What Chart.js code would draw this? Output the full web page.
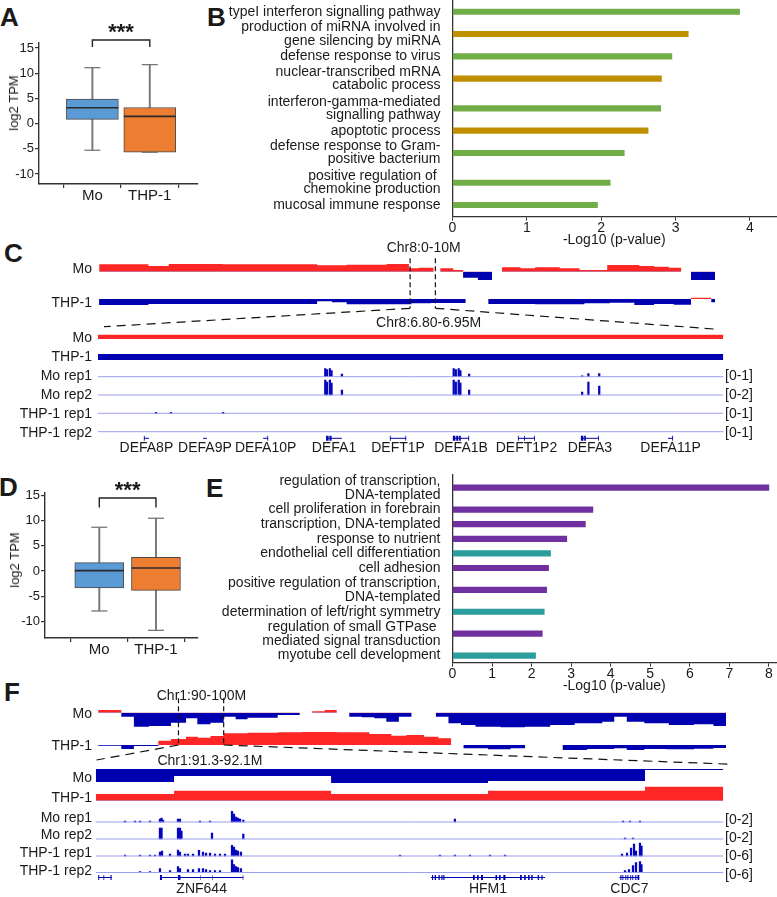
<!DOCTYPE html>
<html><head><meta charset="utf-8"><title>Figure</title>
<script src="https://cdn.jsdelivr.net/npm/chart.js@4.4.1/dist/chart.umd.min.js"></script>
<style>
html,body{margin:0;padding:0;background:#fff}
body{width:777px;height:897px;position:relative;overflow:hidden;font-family:"Liberation Sans",Arial,Helvetica,sans-serif;color:#1a1a1a}
canvas{position:absolute}
.t{position:absolute;white-space:pre;font-size:14px;line-height:16px}
.L{position:absolute;font-weight:bold;font-size:26px;line-height:26px}
</style></head><body>
<script>
// ================= DATA =================
// Panels A / D : box statistics [min, q1, median, q3, max] (log2 TPM)
const boxGroups = ["Mo", "THP-1"];
const boxTicks = [15, 10, 5, 0, -5, -10];
const boxA_Mo   = [-5.3, 0.83, 3.13, 4.85, 11.1];
const boxA_THP1 = [-5.7, -5.7, 1.42, 3.2, 11.7];
const boxD_Mo   = [-7.95, -3.38, 0.08, 1.67, 8.69];
const boxD_THP1 = [-11.8, -3.84, 0.6, 2.72, 10.48];

// Panel B : GO terms
const termsB = [
  "typeI interferon signalling pathway",
  "production of miRNA involved in\ngene silencing by miRNA",
  "defense response to virus",
  "nuclear-transcribed mRNA\ncatabolic process",
  "interferon-gamma-mediated\nsignalling pathway",
  "apoptotic process",
  "defense response to Gram-\npositive bacterium",
  "positive regulation of \nchemokine production",
  "mucosal immune response"];
const valuesB = [3.86, 3.17, 2.95, 2.81, 2.80, 2.63, 2.31, 2.12, 1.95];
const groupB  = [0, 1, 0, 1, 0, 1, 0, 0, 0];
const ticksB  = [0, 1, 2, 3, 4];

// Panel E : GO terms
const termsE = [
  "regulation of transcription,\nDNA-templated",
  "cell proliferation in forebrain",
  "transcription, DNA-templated",
  "response to nutrient",
  "endothelial cell differentiation",
  "cell adhesion",
  "positive regulation of transcription,\nDNA-templated",
  "determination of left/right symmetry",
  "regulation of small GTPase \nmediated signal transduction",
  "myotube cell development"];
const valuesE = [8.0, 3.55, 3.36, 2.89, 2.48, 2.43, 2.38, 2.32, 2.27, 2.10];
const groupE  = [0, 0, 0, 0, 1, 0, 0, 1, 0, 1];
const ticksE  = [0, 1, 2, 3, 4, 5, 6, 7, 8];

// Panel C : Chr8 overview (Mb, bin starts + end) and compartment values
const c8MoPos = [0,0.80,1.13,2.01,3.54,4.02,4.67,5.03,5.19,5.43,5.54,5.75,5.91,6.15,6.38,6.54,6.84,7.08,7.48,7.80,8.25,8.77,9.01,9.25,9.45,9.61,10];
const c8MoVal = [2.2,1.7,2.3,2.2,1.9,2.1,2.3,1.0,1.2,0,1.0,0.5,-1.8,-2.5,0,1.3,1.0,1.3,1.0,0.5,2.0,1.7,1.5,1.2,0,-2.5];
const c8ThpPos = [0,0.80,3.54,3.78,4.02,5.07,5.39,5.95,6.32,7.08,7.88,8.29,8.69,9.01,9.33,9.61,9.94,10];
const c8ThpVal = [-1.8,-1.5,-0.7,-1.0,-1.6,-1.3,-1.2,0,-1.5,-1.6,-1.3,-1.1,-1.8,-1.5,-1.7,0.4,-1.0];
const c8ZoomMarks = [5.05, 5.46];
// Panel C : Chr8:6.80-6.95M zoom (kb)
const c8zPos = [6800, 6950];
const c8zMoVal = [1.3];
const c8zThpVal = [-1.8];
const c8MoRep1Pos = [6854.5,6854.9,6855.6,6856.0,6858.5,6885.3,6885.8,6886.5,6886.9,6889.0,6916.1,6917.6,6920.2];
const c8MoRep1Val = [0.50,0.44,0.50,0.38,0.16,0.50,0.44,0.50,0.38,0.16,0.06,0.19,0.19];
const c8MoRep2Pos = [6854.5,6854.9,6855.6,6856.0,6858.5,6885.3,6885.8,6886.5,6886.9,6889.0,6916.1,6917.6,6920.2];
const c8MoRep2Val = [1.88,1.60,1.88,1.50,0.63,1.88,1.60,1.88,1.50,0.63,0.38,1.63,1.13];
const c8ThpRep1Pos = [6813.9,6817.5,6830.0];
const c8ThpRep1Val = [0.06,0.06,0.06];
const c8ThpRep2Pos = [];
const c8ThpRep2Val = [];
const c8Genes = ["DEFA8P","DEFA9P","DEFA10P","DEFA1","DEFT1P","DEFA1B","DEFT1P2","DEFA3","DEFA11P"];
const c8GeneSpans = [[6811.0,6812.2],[6825.2,6826.1],[6839.6,6840.8],[6854.7,6858.5],[6870.0,6873.9],[6885.1,6889.0],[6900.7,6904.8],[6915.8,6920.1],[6936.7,6937.9]];
const c8Exons = [[6811.0,6811.2],[6812.0,6812.2],[6825.2,6825.35],[6825.95,6826.1],[6839.6,6839.8],[6840.6,6840.8],
  [6854.7,6855.3],[6855.5,6856.0],[6858.3,6858.5],[6870.0,6870.2],[6871.5,6871.7],[6873.7,6873.9],
  [6885.1,6885.7],[6885.9,6886.4],[6886.6,6887.0],[6888.8,6889.0],[6900.7,6900.9],[6902.2,6902.4],[6904.6,6904.8],
  [6915.8,6916.4],[6916.6,6917.0],[6919.9,6920.1],[6936.7,6936.9],[6937.7,6937.9]];

// Panel F : Chr1:90-100M overview (Mb)
const c1MoPos = [90.00,90.37,90.57,90.81,91.16,91.40,91.58,91.79,92.00,92.19,92.38,92.86,93.21,93.41,93.61,93.80,94.00,94.20,94.40,94.59,94.79,94.99,95.38,95.58,95.78,96.01,96.41,96.80,97.20,97.59,98.03,98.22,98.42,98.70,99.09,99.49,99.80,100.0];
const c1MoVal = [0.8,-1.2,-4.2,-4.0,-3.0,-1.7,-3.5,-3.0,-1.2,-2.0,-1.5,-0.7,0,0.4,0.8,0,-1.2,-1.4,-1.7,-2.7,-1.2,0,-1.2,-3.2,-3.7,-4.2,-4.4,-4.2,-3.7,-3.2,-2.7,-1.2,-2.7,-3.2,-3.7,-3.5,-4.0];
const c1ThpPos = [90.00,90.37,90.57,90.96,91.16,91.40,91.59,91.79,92.00,92.38,92.86,93.25,93.80,94.32,94.67,94.91,95.19,95.42,95.62,95.82,96.21,96.57,96.80,97.40,97.79,98.22,98.42,98.70,99.05,99.49,99.80,100.0];
const c1ThpVal = [-0.2,-1.2,-0.3,1.3,1.8,2.5,2.2,2.7,3.5,3.7,3.8,3.9,3.8,3.3,2.8,3.0,2.5,2.0,0,-1.0,-1.3,-1.0,0,-1.5,-1.2,-1.0,-1.5,-1.2,-1.3,-1.1,-0.9];
const c1ZoomMarks = [91.28, 92.0];
// Panel F : Chr1:91.3-92.1M zoom (Mb)
const c1zPos = [91.3,91.4,91.6,91.8,92.0,92.1];
const c1zMoVal = [-3.9,-2.1,-4.2,-3.6,-0.3];
const c1zThpVal = [2.0,3.0,2.0,3.0,4.2];
const c1MoRep1Pos = [91.3375,91.3502,91.3566,91.3693,91.3820,91.3840,91.3859,91.4050,91.4075,91.4330,91.4458,91.4738,91.4763,91.4789,91.4814,91.4840,91.4882,91.7578,91.9720,91.9809,91.9936];
const c1MoRep1Val = [0.13,0.13,0.13,0.13,0.38,0.50,0.25,0.38,0.38,0.13,0.13,1.34,1.00,0.63,0.50,0.38,0.25,0.38,0.13,0.13,0.13];
const c1MoRep2Pos = [91.3820,91.3840,91.4050,91.4075,91.4094,91.4483,91.4882,91.9745,91.9847];
const c1MoRep2Val = [1.38,1.38,1.38,1.38,1.00,0.75,0.63,0.13,0.13];
const c1ThpRep1Pos = [91.3375,91.3566,91.3693,91.3757,91.3820,91.3846,91.3948,91.4050,91.4075,91.4139,91.4177,91.4241,91.4317,91.4368,91.4407,91.4458,91.4521,91.4585,91.4649,91.4738,91.4763,91.4789,91.4814,91.4852,91.6878,91.7387,91.7578,91.7770,91.8025,91.8216,91.9707,91.9771,91.9822,91.9860,91.9885,91.9936,91.9955];
const c1ThpRep1Val = [0.38,0.38,0.38,0.38,1.50,1.88,0.75,2.25,1.50,0.75,0.75,0.75,2.14,1.50,1.13,1.13,0.75,0.75,0.75,4.00,3.38,2.25,1.88,1.50,0.38,0.38,0.38,0.38,0.38,0.38,0.75,1.13,3.00,4.50,1.88,4.88,3.75];
const c1ThpRep2Pos = [91.3566,91.3693,91.3820,91.3948,91.4050,91.4075,91.4177,91.4241,91.4317,91.4368,91.4407,91.4458,91.4521,91.4585,91.4738,91.4763,91.4789,91.4814,91.4852,91.9745,91.9796,91.9847,91.9885,91.9936,91.9955];
const c1ThpRep2Val = [0.38,0.38,1.50,0.75,2.25,1.50,1.13,1.13,1.50,1.50,1.13,0.75,0.75,0.75,4.76,3.00,2.25,1.88,1.50,0.75,1.13,2.63,3.75,4.13,3.00];
const c1Genes = ["", "ZNF644", "HFM1", "CDC7"];
const c1GeneSpans = [[91.3034,91.3204],[91.3820,91.4882],[91.7273,91.8726],[91.9674,91.9927]];
const c1Exons = [[91.3034,91.3046],[91.3100,91.3110],[91.3190,91.3204],
  [91.3820,91.3846],[91.4050,91.4081],[91.4330,91.4336],[91.4483,91.4490],[91.4875,91.4882],
  [91.7286,91.7300],[91.7320,91.7337],[91.7369,91.7385],[91.7405,91.7420],[91.7430,91.7445],[91.7808,91.7830],[91.7860,91.7880],[91.7910,91.7936],
  [91.8095,91.8115],[91.8140,91.8160],[91.8195,91.8222],[91.8407,91.8430],[91.8460,91.8480],[91.8510,91.8530],[91.8550,91.8569],[91.8633,91.8650],[91.8680,91.8695],
  [91.9686,91.9700],[91.9712,91.9724],[91.9750,91.9762],[91.9776,91.9788],[91.9812,91.9824],[91.9838,91.9850],[91.9876,91.9890],[91.9905,91.9927]];

// ================= STYLE / LAYOUT =================
const RED = '#ff2626', BLUE = '#0000b0', PEAK = '#0505c0', BASE = '#9c9ff0', INK = '#1a1a1a', AX = '#333';
const FONT = '"Liberation Sans", Arial, Helvetica, sans-serif';
Chart.defaults.font.family = FONT;
Chart.defaults.color = INK;

function mkCanvas(l, t, w, h) {
  const c = document.createElement('canvas');
  c.width = w; c.height = h;
  c.style.left = l + 'px'; c.style.top = t + 'px';
  c.style.width = w + 'px'; c.style.height = h + 'px';
  document.body.appendChild(c);
  return c;
}
function baseOpts() {
  return {responsive: false, animation: false, devicePixelRatio: 1, events: [],
    plugins: {legend: {display: false}, tooltip: {enabled: false}}};
}
function noPad(s) { s.paddingLeft = 0; s.paddingRight = 0; s.paddingTop = 0; s.paddingBottom = 0; }
function txt(s, x, y, align, size, rot) {
  const d = document.createElement('div');
  d.className = 't'; d.textContent = s;
  d.style.left = x + 'px'; d.style.top = y + 'px';
  if (size) d.style.fontSize = size + 'px';
  const tx = align === 'r' ? '-100%' : align === 'c' ? '-50%' : '0';
  d.style.transform = 'translate(' + tx + ',-50%)' + (rot ? ' rotate(-90deg)' : '');
  document.body.appendChild(d);
}
function letter(ch, x, y) {
  const d = document.createElement('div');
  d.className = 'L'; d.textContent = ch;
  d.style.left = (x - 1) + 'px'; d.style.top = (y - 3.5) + 'px';
  document.body.appendChild(d);
}

// ---------- box plots ----------
function boxChart(c) {
  const cv = mkCanvas(0, c.top, 200, c.height);
  const idx = [0, 1], st = c.stats;
  const axisGrid = {display: true, drawOnChartArea: false, drawTicks: true, tickLength: 4, color: AX, lineWidth: 1.2};
  const axisBorder = {display: true, color: AX, width: 1.4};
  const bracket = {id: 'bracket', afterDraw(chart) {
    const ctx = chart.ctx, x = chart.scales.x, y = chart.scales.y;
    const x0 = x.getPixelForValue(0), x1 = x.getPixelForValue(1);
    const yt = y.getPixelForValue(c.bracket[0]), yb = y.getPixelForValue(c.bracket[1]);
    ctx.save();
    ctx.strokeStyle = '#222'; ctx.lineWidth = 1.4;
    ctx.beginPath(); ctx.moveTo(x0, yb); ctx.lineTo(x0, yt); ctx.lineTo(x1, yt); ctx.lineTo(x1, yb); ctx.stroke();
    ctx.fillStyle = INK; ctx.font = 'bold 22px ' + FONT; ctx.textAlign = 'center'; ctx.textBaseline = 'alphabetic';
    ctx.fillText('***', (x0 + x1) / 2, yt - 1);
    ctx.restore();
  }};
  new Chart(cv, {
    type: 'bar',
    data: {datasets: [
      {type: 'bar', order: 3, grouped: false, barThickness: 1.3, backgroundColor: '#777',
        data: idx.map(i => ({x: i, y: [st[i][0], st[i][4]]}))},
      {type: 'bar', order: 2, grouped: false, barThickness: c.boxW, backgroundColor: ['#5b9bd5', '#ed7d31'],
        borderColor: '#4a4a4a', borderWidth: 1, borderSkipped: false,
        data: idx.map(i => ({x: i, y: [st[i][1], st[i][3]]}))},
      {type: 'line', order: 1, showLine: false, pointStyle: 'line', pointRadius: c.boxW / 2,
        pointBorderWidth: 1.6, pointBorderColor: '#2a2a2a', data: idx.map(i => ({x: i, y: st[i][2]}))},
      {type: 'line', order: 1, showLine: false, pointStyle: 'line', pointRadius: 8,
        pointBorderWidth: 1.3, pointBorderColor: '#777',
        data: idx.flatMap(i => [{x: i, y: st[i][0]}, {x: i, y: st[i][4]}])}
    ]},
    options: Object.assign(baseOpts(), {
      layout: {autoPadding: false, padding: {top: c.areaTop, right: 200 - c.areaRight, left: 0, bottom: 0}},
      scales: {
        x: {type: 'linear', min: c.xMin, max: c.xMax, offset: false,
          afterBuildTicks: s => { s.ticks = idx.map(v => ({value: v})); },
          afterFit: s => { s.height = c.xAxisH; noPad(s); },
          ticks: {autoSkip: false, maxRotation: 0, padding: 0, color: INK, font: {size: 15, lineHeight: 1.0},
            callback: v => boxGroups[v]},
          grid: axisGrid, border: axisBorder},
        y: {type: 'linear', min: c.yMin, max: c.yMax,
          afterBuildTicks: s => { s.ticks = boxTicks.map(v => ({value: v})); },
          afterFit: s => { s.width = c.axisW; noPad(s); },
          ticks: {autoSkip: false, padding: 1, color: INK, font: {size: 13}},
          grid: axisGrid, border: axisBorder}
      }
    }),
    plugins: [bracket]
  });
}

// ---------- GO bar charts ----------
function goChart(c) {
  const cv = mkCanvas(200, c.top, 577, c.height);
  const lines = c.terms.map(t => t.split('\n'));
  const pos = []; let acc = 0;
  lines.forEach(l => { pos.push(acc + (l.length - 1) / 2); acc += l.length; });
  new Chart(cv, {
    type: 'bar',
    data: {datasets: [{data: c.values.map((v, i) => ({x: v, y: pos[i]})),
      backgroundColor: c.groups.map(g => c.palette[g]), barThickness: 5.5, grouped: false}]},
    options: Object.assign(baseOpts(), {
      indexAxis: 'y',
      layout: {autoPadding: false, padding: {top: c.areaTop, right: 1, left: 0, bottom: 0}},
      scales: {
        y: {type: 'linear', reverse: true, offset: false, min: -c.padStart, max: acc - 1 + c.padEnd,
          afterBuildTicks: s => { s.ticks = pos.map(v => ({value: v})); },
          afterFit: s => { s.width = c.axisX; noPad(s); },
          ticks: {autoSkip: false, padding: 4, color: INK, font: {size: 14, lineHeight: c.lineH},
            callback: (v, i) => lines[i]},
          grid: {display: false}, border: {display: true, color: AX, width: 1.3}},
        x: {type: 'linear', min: 0, max: c.xMax, offset: false,
          afterBuildTicks: s => { s.ticks = c.ticks.map(v => ({value: v})); },
          afterFit: s => { s.height = 32.4; noPad(s); },
          ticks: {autoSkip: false, maxRotation: 0, padding: 0, color: INK, font: {size: 14, lineHeight: 1.1}},
          grid: {display: true, drawOnChartArea: false, drawTicks: true, tickLength: 4, color: AX},
          border: {display: true, color: AX, width: 1.3},
          title: {display: true, text: '-Log10 (p-value)', color: INK, font: {size: 14}, padding: {top: 0, bottom: 0}}}
      }
    })
  });
}

// ---------- genome tracks ----------
function genomeChart(c) {
  const cv = mkCanvas(0, c.top, 777, c.height);
  const datasets = [];
  const scales = {x: {type: 'linear', display: false, offset: false, min: c.xMin, max: c.xMax}};
  const geneTracks = [];
  c.tracks.forEach((t, i) => {
    const id = 'y' + i, b = t.baseline - c.top, k = t.k || 1;
    scales[id] = {type: 'linear', display: false, min: -(c.height - b) / k, max: b / k};
    if (t.kind === 'seg') {
      datasets.push({type: 'line', yAxisID: id, stepped: true, borderColor: 'rgba(0,0,0,0)', borderWidth: 0,
        pointRadius: 0, fill: {target: 'origin', above: RED, below: BLUE},
        data: t.pos.map((p, j) => ({x: p, y: t.val[Math.min(j, t.val.length - 1)]}))});
    } else if (t.kind === 'sig') {
      datasets.push({type: 'line', yAxisID: id, borderColor: BASE, borderWidth: 1, pointRadius: 0, fill: false,
        data: [{x: c.xMin, y: 0}, {x: c.xMax, y: 0}]});
      datasets.push({type: 'bar', yAxisID: id, grouped: false, barThickness: 1.6, backgroundColor: PEAK,
        data: t.pos.map((p, j) => ({x: p, y: t.val[j]}))});
    } else if (t.kind === 'gene') {
      const seg = arr => arr.flatMap(([s, e]) => [{x: s, y: 0}, {x: e, y: 0}, {x: e, y: null}]);
      datasets.push({type: 'line', yAxisID: id, borderColor: BLUE, borderWidth: 1, pointRadius: 0, fill: false,
        spanGaps: false, data: seg(t.spans)});
      datasets.push({type: 'line', yAxisID: id, borderColor: BLUE, borderWidth: 5, borderCapStyle: 'butt',
        pointRadius: 0, fill: false, spanGaps: false, data: seg(t.exons)});
      geneTracks.push(t);
    }
  });
  const extras = {id: 'genomeExtras', afterDraw(chart) {
    const ctx = chart.ctx, x = chart.scales.x;
    ctx.save();
    geneTracks.forEach(t => {
      ctx.font = '14px ' + FONT; ctx.fillStyle = INK; ctx.textAlign = 'center'; ctx.textBaseline = 'middle';
      t.names.forEach((n, j) => {
        if (n) ctx.fillText(n, x.getPixelForValue((t.spans[j][0] + t.spans[j][1]) / 2), t.labelY - c.top);
      });
    });
    if (c.zoom) {
      const z = c.zoom, a = x.getPixelForValue(z.marks[0]), bb = x.getPixelForValue(z.marks[1]);
      const T = z.yTop - c.top, B = z.yBot - c.top;
      ctx.strokeStyle = '#111'; ctx.lineWidth = 1.2;
      ctx.setLineDash([5, 3]);
      ctx.beginPath(); ctx.moveTo(a, T); ctx.lineTo(a, B); ctx.moveTo(bb, T); ctx.lineTo(bb, B); ctx.stroke();
      ctx.setLineDash([9, 6]);
      ctx.beginPath();
      ctx.moveTo(a, B); ctx.lineTo(z.left[0], z.left[1] - c.top);
      ctx.moveTo(bb, B); ctx.lineTo(z.right[0], z.right[1] - c.top);
      ctx.stroke();
    }
    ctx.restore();
  }};
  new Chart(cv, {type: 'line', data: {datasets},
    options: Object.assign(baseOpts(), {layout: {autoPadding: false, padding: {left: c.x0, right: 777 - c.x1, top: 0, bottom: 0}}, scales}),
    plugins: [extras]});
}

// ================= BUILD =================
const K = 10 / 3; // px per compartment unit

letter('A', 1, 7); letter('B', 208, 7); letter('C', 5, 243);
letter('D', 0, 477); letter('E', 207, 478); letter('F', 5, 682);

boxChart({top: 0, height: 210, axisW: 39, areaTop: 43, areaRight: 198, xAxisH: 26,
  xMin: -0.93, xMax: 1.84, yMin: -12, yMax: 16, boxW: 52, bracket: [16.6, 15.2], stats: [boxA_Mo, boxA_THP1]});
txt('log2 TPM', 14, 102.5, 'c', 13, true);

boxChart({top: 455, height: 210, axisW: 45, areaTop: 38, areaRight: 198, xAxisH: 27.1,
  xMin: -0.958, xMax: 1.742, yMin: -13.3, yMax: 15.5, boxW: 49, bracket: [14.5, 12.6], stats: [boxD_Mo, boxD_THP1]});
txt('log2 TPM', 14.7, 560, 'c', 13, true);

goChart({top: 0, height: 249, areaTop: 0, axisX: 252.5, terms: termsB, values: valuesB, groups: groupB,
  palette: ['#70ad47', '#bf8f00'], ticks: ticksB, xMax: 4.35, padStart: 0.79, padEnd: 0.78, lineH: 0.95});
goChart({top: 465, height: 230, areaTop: 10, axisX: 252.5, terms: termsE, values: valuesE, groups: groupE,
  palette: ['#7030a0', '#2a9d9c'], ticks: ticksE, xMax: 8.18, padStart: 0.37, padEnd: 0.48, lineH: 1.0});

// ---- Panel C ----
txt('Chr8:0-10M', 423.7, 246.7, 'c');
txt('Chr8:6.80-6.95M', 428.6, 321.7, 'c');
genomeChart({top: 240, height: 95, x0: 99.1, x1: 715, xMin: 0, xMax: 10,
  tracks: [
    {kind: 'seg', baseline: 271.7, k: K, pos: c8MoPos, val: c8MoVal},
    {kind: 'seg', baseline: 299, k: K, pos: c8ThpPos, val: c8ThpVal}],
  zoom: {marks: c8ZoomMarks, yTop: 258.3, yBot: 308.3, left: [104, 326.7], right: [713.6, 329]}});
genomeChart({top: 330, height: 130, x0: 98, x1: 723.5, xMin: 6800, xMax: 6950,
  tracks: [
    {kind: 'seg', baseline: 339, k: K, pos: c8zPos, val: c8zMoVal},
    {kind: 'seg', baseline: 354, k: K, pos: c8zPos, val: c8zThpVal},
    {kind: 'sig', baseline: 376.7, k: 16 / 1, pos: c8MoRep1Pos, val: c8MoRep1Val},
    {kind: 'sig', baseline: 395, k: 16 / 2, pos: c8MoRep2Pos, val: c8MoRep2Val},
    {kind: 'sig', baseline: 413.3, k: 16 / 1, pos: c8ThpRep1Pos, val: c8ThpRep1Val},
    {kind: 'sig', baseline: 431.7, k: 16 / 1, pos: c8ThpRep2Pos, val: c8ThpRep2Val},
    {kind: 'gene', baseline: 438.3, k: 1, spans: c8GeneSpans, exons: c8Exons, names: c8Genes, labelY: 448.3}]});
[['Mo', 268.3], ['THP-1', 301.7], ['Mo', 336.7], ['THP-1', 356], ['Mo rep1', 375], ['Mo rep2', 394.3],
 ['THP-1 rep1', 413.3], ['THP-1 rep2', 431.7]].forEach(([s, y]) => txt(s, 92, y, 'r'));
[['[0-1]', 375], ['[0-2]', 394.3], ['[0-1]', 413.3], ['[0-1]', 431.7]].forEach(([s, y]) => txt(s, 725, y, 'l'));

// ---- Panel F ----
txt('Chr1:90-100M', 201.5, 695, 'c');
txt('Chr1:91.3-92.1M', 210, 760, 'c');
genomeChart({top: 690, height: 80, x0: 98.1, x1: 726, xMin: 90, xMax: 100,
  tracks: [
    {kind: 'seg', baseline: 712.7, k: K, pos: c1MoPos, val: c1MoVal},
    {kind: 'seg', baseline: 745, k: K, pos: c1ThpPos, val: c1ThpVal}],
  zoom: {marks: c1ZoomMarks, yTop: 698.3, yBot: 745, left: [96.6, 760], right: [733.4, 764.3]}});
genomeChart({top: 760, height: 137, x0: 95.6, x1: 723.5, xMin: 91.3, xMax: 92.1,
  tracks: [
    {kind: 'seg', baseline: 769, k: K, pos: c1zPos, val: c1zMoVal},
    {kind: 'seg', baseline: 800.7, k: K, pos: c1zPos, val: c1zThpVal},
    {kind: 'sig', baseline: 822, k: 16 / 2, pos: c1MoRep1Pos, val: c1MoRep1Val},
    {kind: 'sig', baseline: 839, k: 16 / 2, pos: c1MoRep2Pos, val: c1MoRep2Val},
    {kind: 'sig', baseline: 856, k: 16 / 6, pos: c1ThpRep1Pos, val: c1ThpRep1Val},
    {kind: 'sig', baseline: 872.5, k: 16 / 6, pos: c1ThpRep2Pos, val: c1ThpRep2Val},
    {kind: 'gene', baseline: 877.5, k: 1, spans: c1GeneSpans, exons: c1Exons, names: c1Genes, labelY: 889.3}]});
[['Mo', 712.7], ['THP-1', 744.5], ['Mo', 776.7], ['THP-1', 796.7], ['Mo rep1', 816.7], ['Mo rep2', 834],
 ['THP-1 rep1', 851.7], ['THP-1 rep2', 870]].forEach(([s, y]) => txt(s, 92, y, 'r'));
[['[0-2]', 819], ['[0-2]', 837], ['[0-6]', 855], ['[0-6]', 874]].forEach(([s, y]) => txt(s, 725, y, 'l'));
</script>
</body></html>
